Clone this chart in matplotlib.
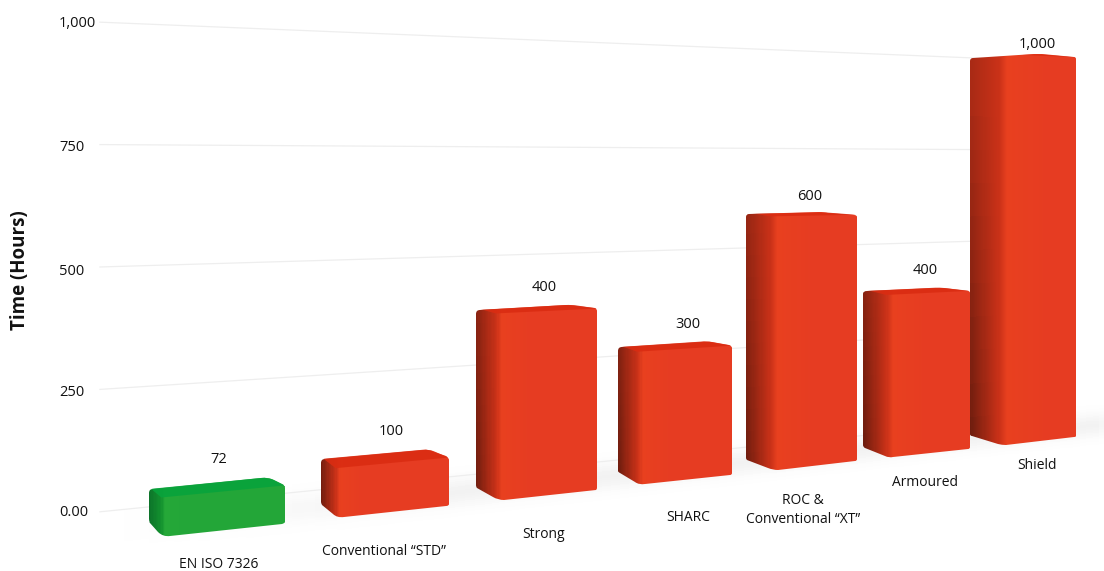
import numpy as np
import matplotlib
matplotlib.use('Agg')
import matplotlib.pyplot as plt
import matplotlib.colors as mcolors
import matplotlib.transforms as mtransforms
from matplotlib.path import Path
from matplotlib.patches import PathPatch

plt.rcParams['font.family'] = ['Open Sans', 'DejaVu Sans']

# data
categories = ['EN ISO 7326', 'Conventional “STD”', 'Strong', 'SHARC',
              'ROC &\nConventional “XT”', 'Armoured', 'Shield']
value_labels = ['72', '100', '400', '300', '600', '400', '1,000']
tick_values = [0, 250, 500, 750, 1000]
tick_labels = ['0.00', '250', '500', '750', '1,000']
# the drawn tops do not follow the printed values exactly, so read them off the grid
top_back = [38, 67, 378, 272, 586, 378, 1018]
top_front = [17, 44, 366, 257, 578, 365, 1014]
top_left = [37, 67, 376, 271, 585, 378, 1000]

# bar shape, in category units
half_width = [0.385, 0.40, 0.42, 0.43, 0.46, 0.48, 0.515]
side_width = [0.07, 0.09, 0.133, 0.14, 0.20, 0.20, 0.27]
base_front = -65
base_left = -30

# label offsets in pixels
tick_dy = [-1, -3, -5, -3, -1]
value_dx = [1, 5, 6, 12, 8, 7, 13]
value_dy = [23, 22, 19, 19, 16, 18, 9]
cat_dx = [1, -2, 6, 12, 1, 7, 13]
cat_dy = [34, 39, 39, 37, 43, 28, 23]

RED = dict(front='#e63c22', glow='#e8401f', side='#c93118', dark_low='#6b1c0e', dark_high='#a82a15', cap='#da2c12')
GREEN = dict(front='#23a638', glow='#25a838', side='#13922f', dark_low='#0c7029', dark_high='#0f8a30', cap='#08a33c')
bar_styles = [GREEN, RED, RED, RED, RED, RED, RED]


class Perspective(mtransforms.Transform):
    # (category, value) -> pixel
    input_dims = 2
    output_dims = 2
    is_separable = False
    has_inverse = False
    H = np.array([[188.3, 0, 218], [8.67, -0.473, 500], [0.0527, 0, 1]])

    def transform_non_affine(self, values):
        values = np.asarray(values, dtype=float)
        pts = np.column_stack([values, np.ones(len(values))]) @ self.H.T
        return pts[:, :2] / pts[:, 2:]


def rounded_path(points, radii):
    # closed polygon with curved corners, radii in rough pixels
    points = np.array(points, dtype=float)
    scale = np.array([150, 0.473])
    n = len(points)
    verts, codes = [], []
    for i in range(n):
        prev_p, p, next_p = points[i - 1], points[i], points[(i + 1) % n]
        a = p + (prev_p - p) * min(0.45, radii[i] / np.hypot(*((prev_p - p) * scale)))
        b = p + (next_p - p) * min(0.45, radii[i] / np.hypot(*((next_p - p) * scale)))
        verts += [a, p, b]
        codes += [Path.LINETO, Path.CURVE3, Path.CURVE3]
    codes[0] = Path.MOVETO
    verts.append(verts[0])
    codes.append(Path.CLOSEPOLY)
    return Path(np.array(verts), codes)


def rgb(name):
    return np.array(mcolors.to_rgb(name))


fig = plt.figure(figsize=(11.04, 5.71), dpi=100)
ax = fig.add_axes([0, 0, 1, 1])
ax.set_xlim(0, 1104)
ax.set_ylim(571, 0)
ax.axis('off')
persp = Perspective() + ax.transData

# soft floor shadow, fading out towards both ends
shadow_v = np.linspace(-125, 45, 41)
shadow_u = np.linspace(-0.65, 7.3, 60)
v_mid = (shadow_v[:-1] + shadow_v[1:]) / 2
u_mid = (shadow_u[:-1] + shadow_u[1:]) / 2
profile = 0.05 * np.exp(-((v_mid + 35) / 32) ** 2)
fade = np.clip((u_mid + 0.65) / 2.0, 0, 1) * np.clip((7.3 - u_mid) / 0.6, 0, 1)
shadow = 1 - np.outer(profile, fade)
ax.pcolormesh(shadow_u, shadow_v, np.dstack([shadow] * 3), transform=persp, zorder=1)

# grid lines
for k, t in enumerate(tick_values):
    ax.plot([-0.645, 5.6], [t, t], color='#eeeeee', lw=0.9, transform=persp, zorder=2)
    ax.annotate(tick_labels[k], xy=(-0.645, t), xycoords=persp,
                xytext=(-41, tick_dy[k]), textcoords='offset pixels', ha='left', va='center',
                fontsize=10.5, color='#111111')

# bars
for i in range(len(categories)):
    st = bar_styles[i]
    ul, ur = i - half_width[i], i + half_width[i]
    side = side_width[i]
    back, front, left = top_back[i], top_front[i], top_left[i]
    z = 10 + i

    outline = rounded_path([(ul, base_left), (ul, left), (ur - side * 1.4, back), (ur, front),
                            (ur, base_front), (ul + side * 1.1, base_front)],
                           [2, 4, 6, 3, 2, 6])
    clip = PathPatch(outline, transform=persp, facecolor='none', edgecolor='none', zorder=z)
    ax.add_patch(clip)

    # left side fades into the front face
    us = np.linspace(ul, ur, 101)
    vs = np.linspace(base_front - 5, back + 5, 13)
    um = (us[:-1] + us[1:]) / 2
    vm = (vs[:-1] + vs[1:]) / 2
    colors = np.zeros((len(vm), len(um), 3))
    for r, v in enumerate(vm):
        lift = np.clip((v - base_front) / 950, 0, 1)
        dark = rgb(st['dark_low']) * (1 - lift) + rgb(st['dark_high']) * lift
        for c, u in enumerate(um):
            t = (u - ul) / side
            if t < 1:
                col = dark + (rgb(st['side']) - dark) * t
            elif t < 1.3:
                col = rgb(st['side']) + (rgb(st['glow']) - rgb(st['side'])) * (t - 1) / 0.3
            else:
                col = rgb(st['glow']) + (rgb(st['front']) - rgb(st['glow'])) * min(1, (t - 1.3) / 1.5)
            colors[r, c] = col
    mesh = ax.pcolormesh(us, vs, colors, transform=persp, zorder=z)
    mesh.set_clip_path(clip)

    # top face
    cap = PathPatch(Path([(ul, left + 5), (ur - side * 1.4, back + 5), (ur + 0.02, front),
                          (ul + side, front), (ul, left + 5)]),
                    transform=persp, facecolor=st['cap'], edgecolor='none', alpha=0.9, zorder=z + 0.1)
    ax.add_patch(cap)
    cap.set_clip_path(clip)

    ax.annotate(value_labels[i], xy=(i, back), xycoords=persp, xytext=(value_dx[i], value_dy[i]),
                textcoords='offset pixels', ha='center', va='center', fontsize=10.5,
                color='#111111', zorder=30)
    ax.annotate(categories[i], xy=(i, base_front), xycoords=persp, xytext=(cat_dx[i], -cat_dy[i]),
                textcoords='offset pixels', ha='center', va='center', fontsize=10,
                linespacing=1.45, color='#111111', zorder=30)

ax.text(20, 270, 'Time (Hours)', rotation=90, ha='center', va='center',
        fontsize=13.5, fontweight='bold', color='#111111')

fig.savefig('out.png', dpi=100)
